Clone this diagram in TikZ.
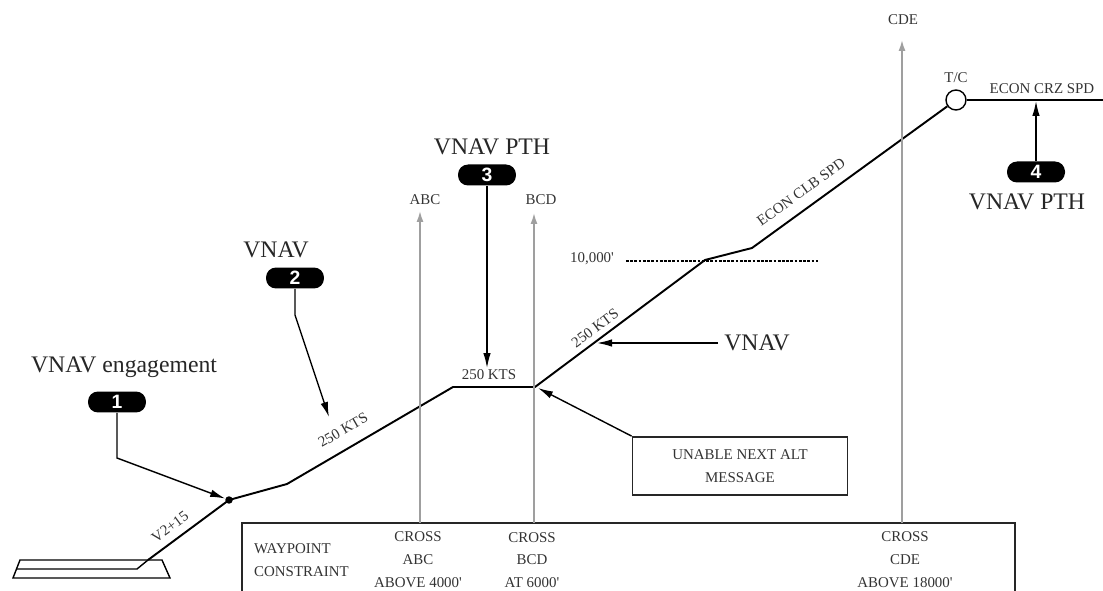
\documentclass[tikz,border=0pt]{standalone}
\usepackage{fontspec}
\setmainfont{Liberation Serif}
\newfontfamily\badgefont{Liberation Sans}
\usetikzlibrary{arrows.meta}

\begin{document}
\begin{tikzpicture}[x=0.02cm,y=-0.02cm,
  fpath/.style={line width=1.1pt},
  ptr/.style={line width=0.8pt,-{Latex[length=3mm,width=1.5mm]}},
  grayarr/.style={draw=gray!75,line width=0.9pt,-{Latex[length=2.2mm,width=1.4mm]}},
  badge/.style={fill=black,text=white,rounded corners=0.2cm,minimum width=1.16cm,
    minimum height=0.42cm,inner sep=0pt,font=\badgefont\bfseries\fontsize{11}{11}\selectfont},
  biglbl/.style={text=black!85,font=\fontsize{13.5}{16}\selectfont},
  smlbl/.style={text=black!80,font=\fontsize{8.5}{13}\selectfont}]
\clip (0,0) rectangle (1103,591);
% runway
\draw[line width=0.8pt] (13,578) -- (20,560) -- (162,560) -- (170,578) -- cycle;
\draw[line width=0.8pt] (17,569) -- (137,569) -- (148,560);
% flight path
\coordinate (p0) at (148,560);
\node[circle,fill=black,inner sep=0pt,minimum size=0.15cm] (dot) at (229,500) {};
\coordinate (p2) at (287,484);
\coordinate (p3) at (453,387);
\coordinate (p4) at (535,387);
\coordinate (p5) at (705,260);
\coordinate (p6) at (752,248);
\node[circle,draw,line width=0.8pt,minimum size=0.4cm,inner sep=0pt] (tc) at (956,100) {};
\coordinate (p8) at (1103,100);
\draw[fpath] (p0) -- (dot.center) -- (p2) -- (p3) -- (p4) -- (p5) -- (p6) -- (tc);
\draw[fpath] (tc) -- (p8);
\node[smlbl] (tclbl) at (956,78) {T/C};
\node[smlbl] (crz) at (1042,89) {ECON CRZ SPD};
\node[smlbl,rotate=36.5] (v2) at (170,527) {V2+15};
\node[smlbl,rotate=30] (kts1) at (343,430) {250 KTS};
\node[smlbl] (kts2) at (489,375) {250 KTS};
\node[smlbl,rotate=36.8] (kts3) at (595,328) {250 KTS};
\node[smlbl,rotate=35.8] (clb) at (801,192) {ECON CLB SPD};
% 10,000 ft
\coordinate (k0) at (626,261);
\coordinate (k1) at (818,261);
\draw[line width=0.7pt,dash pattern=on 1.6pt off 0.8pt] (k0) -- (k1);
\node[smlbl] (tenk) at (592,259) {10,000\textquotesingle};
% waypoint box and arrows
\draw[line width=1pt,draw=black!85] (242,600) -- (242,523) -- (1015,523) -- (1015,600);
\coordinate (abc0) at (420,523);
\coordinate (abc1) at (420,211);
\coordinate (bcd0) at (534,523);
\coordinate (bcd1) at (534,213);
\coordinate (cde0) at (902,523);
\coordinate (cde1) at (902,40);
\draw[grayarr] (abc0) -- (abc1);
\draw[grayarr] (bcd0) -- (bcd1);
\draw[grayarr] (cde0) -- (cde1);
\node[smlbl] (abc) at (425,200) {ABC};
\node[smlbl] (bcd) at (541,200) {BCD};
\node[smlbl] (cde) at (903,20) {CDE};
\node[smlbl,align=left,anchor=west] (wpt) at (248,560) {WAYPOINT\\CONSTRAINT};
\node[smlbl,align=center] (colabc) at (418,560) {CROSS\\ABC\\ABOVE 4000\textquotesingle};
\node[smlbl,align=center] (colbcd) at (532,560) {CROSS\\BCD\\AT 6000\textquotesingle};
\node[smlbl,align=center] (colcde) at (905,560) {CROSS\\CDE\\ABOVE 18000\textquotesingle};
% message box
\node[smlbl,draw=black!85,line width=1pt,align=center,minimum width=4.3cm,
  minimum height=1.16cm] (msg) at (740,466) {UNABLE NEXT ALT\\MESSAGE};
\coordinate (m1) at (538,388);
\draw[ptr] (msg.north west) -- (m1);
% callouts
\node[biglbl] (eng) at (124,367) {VNAV engagement};
\node[badge] (b1) at (117,402) {1};
\coordinate (c1) at (117,458);
\draw[ptr] (b1.south) -- (c1) -- (dot);
\node[biglbl] (vn2) at (276,250) {VNAV};
\node[badge] (b2) at (295,278) {2};
\coordinate (c2) at (295,315);
\coordinate (a2) at (329,417);
\draw[ptr] (b2.south) -- (c2) -- (a2);
\node[biglbl] (pth3) at (492,147) {VNAV PTH};
\node[badge] (b3) at (487,175) {3};
\coordinate (a3) at (487,368);
\draw[ptr] (b3.south) -- (a3);
\node[badge] (b4) at (1036,172) {4};
\node[biglbl] (pth4) at (1027,202) {VNAV PTH};
\coordinate (a4) at (1036,101);
\draw[ptr] (b4.north) -- (a4);
\node[biglbl] (vn3) at (757,343) {VNAV};
\coordinate (v3) at (597,343);
\draw[ptr] (vn3.west) -- (v3);
\end{tikzpicture}
\end{document}
